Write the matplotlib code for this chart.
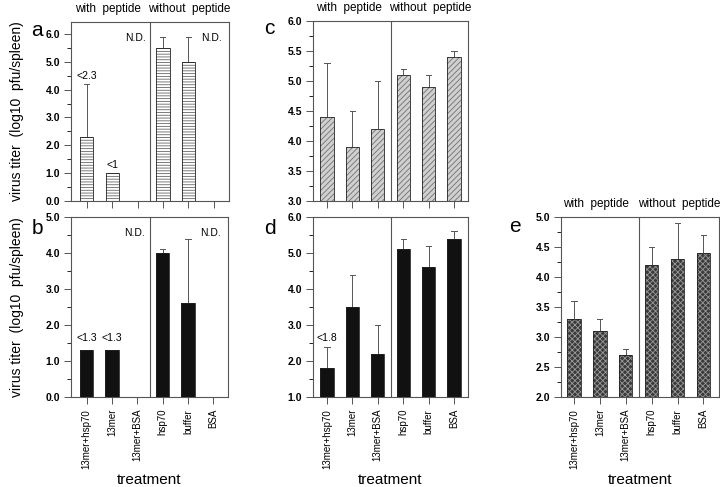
import numpy as np
import matplotlib.pyplot as plt
from matplotlib.ticker import MultipleLocator, FormatStrFormatter
import matplotlib.transforms as mtransforms

plt.rcParams['font.family'] = ['Liberation Sans', 'DejaVu Sans']
plt.rcParams['hatch.linewidth'] = 0.6

# ---------------------------------------------------------------------------- #
# Data                                                                         #
# ---------------------------------------------------------------------------- #
categories = ['13mer+hsp70', '13mer', '13mer+BSA', 'hsp70', 'buffer', 'BSA']
nan = np.nan

a_vals = [2.3, 1.0, nan, 5.5, 5.0, nan]
a_top = [4.2, nan, nan, 5.9, 5.9, nan]
a_notes = {0: '<2.3', 1: '<1'}

b_vals = [1.3, 1.3, nan, 4.0, 2.6, nan]
b_top = [nan, nan, nan, 4.1, 4.4, nan]
b_notes = {0: '<1.3', 1: '<1.3'}

c_vals = [4.4, 3.9, 4.2, 5.1, 4.9, 5.4]
c_top = [5.3, 4.5, 5.0, 5.2, 5.1, 5.5]

d_vals = [1.8, 3.5, 2.2, 5.1, 4.6, 5.4]
d_top = [2.4, 4.4, 3.0, 5.4, 5.2, 5.6]
d_notes = {0: '<1.8'}

e_vals = [3.3, 3.1, 2.7, 4.2, 4.3, 4.4]
e_top = [3.6, 3.3, 2.8, 4.5, 4.9, 4.7]

ylabel = 'virus titer  (log10  pfu/spleen)'
GREY = '#555555'


def ax_panel(ax, vals, top, ylim, major, minor, xlim, face, hatch, hcolor,
             notes={}, note_off=0.2, nd=(), show_x=False, headers=True):
    x = np.arange(len(categories))
    vals = np.array(vals, dtype=float)
    top = np.array(top, dtype=float)
    base = ylim[0]
    ok = ~np.isnan(vals)

    # errorbars (upper only) ------------------------------------------------ #
    for xi, v, t in zip(x, vals, top):
        if np.isnan(t):
            continue
        ax.plot([xi, xi], [v, t], c=GREY, lw=0.7, zorder=1)
        ax.plot([xi - 0.1, xi + 0.1], [t, t], c=GREY, lw=0.7, zorder=1)

    ax.bar(x[ok], vals[ok] - base, bottom=base, width=0.52, color=face,
           hatch=hatch, edgecolor=hcolor, linewidth=0, zorder=2)
    ax.bar(x[ok], vals[ok] - base, bottom=base, width=0.52, color='none',
           edgecolor='#222222', linewidth=0.6, zorder=3)

    for i, s in notes.items():
        t = top[i] if not np.isnan(top[i]) else vals[i]
        ax.text(i, t + note_off, s, ha='center', va='bottom', fontsize=7.5)

    for i in nd:
        ax.text(i - 0.1, 0.91, 'N.D.', ha='center', va='center', fontsize=7.5,
                transform=mtransforms.blended_transform_factory(ax.transData, ax.transAxes))

    ax.axvline(2.5, c=GREY, lw=0.8, zorder=0)

    ax.set_ylim(ylim)
    ax.set_xlim(xlim)
    ax.yaxis.set_major_locator(MultipleLocator(major))
    ax.yaxis.set_minor_locator(MultipleLocator(minor))
    ax.yaxis.set_major_formatter(FormatStrFormatter('%.1f'))
    ax.set_xticks(x)
    if show_x:
        ax.set_xticklabels(categories, rotation=90, fontsize=7)
        ax.set_xlabel('treatment', fontsize=11)
        ax.xaxis.set_label_coords(0.5, -0.46)
        ax.xaxis.label.set_va('center')
    else:
        ax.set_xticklabels([])

    for sp in ax.spines.values():
        sp.set_color(GREY)
        sp.set_linewidth(0.8)
    ax.tick_params(axis='both', colors=GREY, labelcolor='black', labelsize=7.5,
                   direction='out', width=0.7)
    ax.tick_params(axis='both', which='major', length=5)
    ax.tick_params(axis='y', which='minor', length=3, width=0.6)
    ax.tick_params(axis='y', pad=3)
    ax.tick_params(axis='x', labelsize=7)
    for lab in ax.get_yticklabels():
        lab.set_fontweight('bold')

    if headers:
        tr = mtransforms.blended_transform_factory(ax.transData, ax.transAxes)
        ax.text(0.85, 1.04, 'with  peptide', ha='center', va='bottom',
                fontsize=8.5, transform=tr)
        ax.text(4.05, 1.04, 'without  peptide', ha='center', va='bottom',
                fontsize=8.5, transform=tr)
    return ax


fig = plt.figure(figsize=(7.2, 4.87), dpi=100)

ax_a = fig.add_axes([71/720, 1 - 201/487, 158/720, 179/487])
ax_b = fig.add_axes([71/720, 1 - 397/487, 157/720, 180/487])
ax_c = fig.add_axes([313/720, 1 - 201/487, 155/720, 180/487])
ax_d = fig.add_axes([313/720, 1 - 397/487, 155/720, 180/487])
ax_e = fig.add_axes([561/720, 1 - 397/487, 158/720, 180/487])

ax_panel(ax_a, a_vals, a_top, (0, 6.43), 1.0, 0.5, (-0.62, 5.6),
         'white', '------', '#666666', notes=a_notes, note_off=0.12, nd=(2, 5))
ax_panel(ax_b, b_vals, b_top, (0, 5.0), 1.0, 0.5, (-0.62, 5.58),
         '#111111', None, '#111111', notes=b_notes, note_off=0.2, nd=(2, 5),
         show_x=True, headers=False)
ax_panel(ax_c, c_vals, c_top, (3.0, 6.0), 0.5, 0.25, (-0.55, 5.55),
         '#d0d0d0', '//////', '#707070')
ax_panel(ax_d, d_vals, d_top, (1.0, 6.0), 1.0, 0.5, (-0.55, 5.55),
         '#111111', None, '#111111', notes=d_notes, note_off=0.1,
         show_x=True, headers=False)
ax_panel(ax_e, e_vals, e_top, (2.0, 5.0), 0.5, 0.25, (-0.5, 5.6),
         '#3a3a3a', 'xxxxxx', '#9a9a9a', show_x=True)

for ax in (ax_a, ax_b):
    ax.set_ylabel(ylabel, fontsize=10)
    ax.yaxis.set_label_coords(-0.30, 0.5)

for lab, (px, py) in zip('abcde', [(37, 30), (37, 228), (269, 28), (270, 229), (515, 226)]):
    fig.text(px/720, 1 - py/487, lab, ha='center', va='center', fontsize=15)

fig.savefig('out.png', dpi=100)
